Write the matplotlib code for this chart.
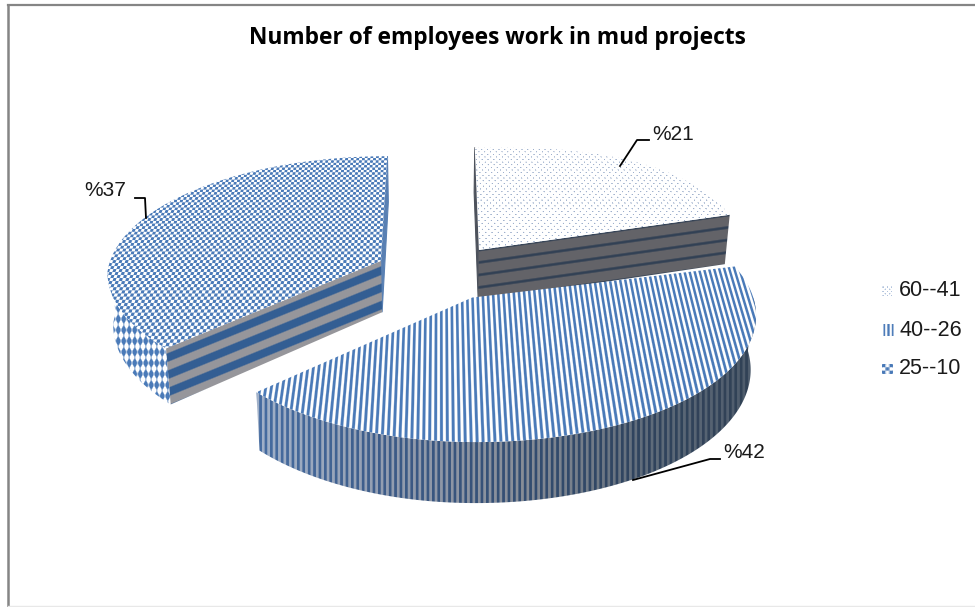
import numpy as np
import matplotlib
matplotlib.use("Agg")
import matplotlib.pyplot as plt
from matplotlib.patches import Polygon

title = "Number of employees work in mud projects"
age_groups = ["60--41", "40--26", "25--10"]
percents = [21, 42, 37]

# camera for the tilted pie, everything in screen pixels
cx, cy = 440.0, 272.0
rx, ry = 274.0, 120.0
persp = 0.1224
explode = 0.237
depth = 52.0
taper = 0.983  # lower edge of the pie sits slightly narrower

BLUE = np.array([74, 122, 184]) / 255
WHITE = np.array([1.0, 1.0, 1.0])


def project(X, Y):
    w = 1 + persp * Y
    sx = cx + rx * X / w
    sy = cy - ry * Y / w
    # small lens twist at the far right and near left
    sy = sy - 14 * np.maximum(X, 0) ** 2 * np.maximum(Y, 0)
    sx = sx + 10 * np.minimum(X, 0) * np.minimum(Y, 0)
    return sx, sy


def plane(px, py):
    w = 1 / (1 + persp * (py - cy) / ry)
    return (px - cx) / rx * w, -(py - cy) / ry * w


def drop(Y):
    return depth / (1 + persp * Y)


def lower(sx):
    return cx + (sx - cx) * taper


def mix(c0, c1, t):
    t = np.clip(t, 0, 1)[..., None]
    return c0 * (1 - t) + c1 * t


def fill(ax, xs, ys, painter, z):
    # paint an rgb array over the bounding box, clipped to the outline
    x0, x1 = int(min(xs)) - 2, int(max(xs)) + 3
    y0, y1 = int(min(ys)) - 2, int(max(ys)) + 3
    px, py = np.meshgrid(np.arange(x0, x1) + 0.5, np.arange(y0, y1) + 0.5)
    im = ax.imshow(painter(px, py), extent=(x0, x1, y1, y0), aspect="auto",
                   interpolation="bilinear", zorder=z)
    patch = Polygon(np.column_stack([xs, ys]), closed=True, transform=ax.transData)
    im.set_clip_path(patch)


def dots(px, py):
    X, Y = plane(px, py)
    s = np.sin(2 * np.pi * X / 0.024) * np.sin(2 * np.pi * Y / 0.055)
    return mix(WHITE, np.array([0.62, 0.69, 0.80]), (s - 0.55) * 2.5)


def stripes(px, py):
    X, Y = plane(px, py)
    return mix(WHITE, BLUE, 0.5 + 0.8 * np.sin(2 * np.pi * X / 0.0185))


def checks(px, py):
    X, Y = plane(px, py)
    s = np.sin(2 * np.pi * X / 0.023) * np.sin(2 * np.pi * Y / 0.05)
    return mix(WHITE, BLUE, 0.5 + 1.4 * s)


def side_stripes(px, py):
    stops = [263, 400, 520, 640, 750]
    light = np.array([[160, 176, 200], [146, 156, 174], [136, 142, 152], [98, 110, 124], [78, 92, 108]]) / 255
    dark = np.array([[70, 108, 160], [60, 90, 134], [52, 78, 114], [48, 68, 94], [50, 66, 86]]) / 255
    lt = np.stack([np.interp(px, stops, light[:, i]) for i in range(3)], axis=-1)
    dk = np.stack([np.interp(px, stops, dark[:, i]) for i in range(3)], axis=-1)
    t = np.clip(0.5 + 1.0 * np.sin(2 * np.pi * px / 5.4), 0, 1)[..., None]
    return lt * (1 - t) + dk * t


def diamonds(px, py):
    s = np.sin(2 * np.pi * (px / 11 + py / 22)) * np.sin(2 * np.pi * (px / 11 - py / 22))
    return mix(WHITE, BLUE, 0.5 + 1.5 * s)


def front_bands(p0, p1, c0, c1, sharp):
    # bands that run parallel to the cut edge, sharp(t) picks the colour
    def paint(px, py):
        ytop = p0[1] + (p1[1] - p0[1]) * (px - p0[0]) / (p1[0] - p0[0])
        return mix(c0, c1, sharp((py - ytop) / depth))
    return paint


def thin_lines(t):
    return (np.cos(2 * np.pi * t / 0.24) - 0.55) * 2.2


def wide_bands(t):
    return 0.5 + 1.8 * np.sin(2 * np.pi * 3 * t - 2.0)


fig = plt.figure(figsize=(9.75, 6.07), dpi=100)
ax = fig.add_axes([0, 0, 1, 1])

tops = [dots, stripes, checks]
fronts = [
    (np.array([0.39, 0.39, 0.41]), np.array([0.19, 0.25, 0.33]), thin_lines),
    None,
    (np.array([0.59, 0.59, 0.61]), np.array([0.20, 0.37, 0.58]), wide_bands),
]
walls = [np.array([0.30, 0.32, 0.36]), None, np.array([0.35, 0.50, 0.70])]

start = 0.0
total = sum(percents)
draw_order = [0, 2, 1]
geometry = []
for v in percents:
    end = start + 360.0 * v / total
    mid = np.radians((start + end) / 2)
    geometry.append((start, end, explode * np.sin(mid), explode * np.cos(mid)))
    start = end

for i in draw_order:
    a0, a1, ox, oy = geometry[i]
    z = 2 + draw_order.index(i) * 5
    th = np.radians(np.linspace(a0, a1, 200))
    X, Y = ox + np.sin(th), oy + np.cos(th)
    sx, sy = project(X, Y)
    ax_, ay_ = project(ox, oy)
    dz = drop(oy)

    # straight wall behind the first edge of a slice
    if walls[i] is not None:
        c = walls[i]
        j = 0 if i == 0 else -1
        wx = [sx[j], ax_, lower(ax_), lower(sx[j])]
        wy = [sy[j], ay_, ay_ + dz, sy[j] + drop(Y[j])]
        ax.add_patch(Polygon(np.column_stack([wx, wy]), closed=True, facecolor=c,
                             edgecolor=c, linewidth=0.8, zorder=z))

    # outer rim, only the part that faces the viewer
    keep = (np.degrees(th) >= 90) & (np.degrees(th) <= 270)
    if keep.any():
        ux, uy = sx[keep], sy[keep]
        lx, ly = lower(ux), uy + drop(Y[keep])
        fill(ax, np.r_[ux, lx[::-1]], np.r_[uy, ly[::-1]],
             side_stripes if i == 1 else diamonds, z + 1)

    # cut face towards the viewer
    if fronts[i] is not None:
        c0, c1, sharp = fronts[i]
        j = -1 if i == 0 else 0
        ex, ey = sx[j], sy[j]
        de = drop(Y[j])
        fill(ax, [ax_, ex, lower(ex), lower(ax_)], [ay_, ey, ey + de, ay_ + dz],
             front_bands((ax_, ay_), (ex, ey), c0, c1, sharp), z + 2)

    # top face
    fill(ax, np.r_[ax_, sx], np.r_[ay_, sy], tops[i], z + 3)

ax.set_xlim(0, 975)
ax.set_ylim(607, 0)
ax.axis("off")

# outer frame
ax.plot([8, 8], [607, 5], color="#858585", lw=1.8, zorder=30)
ax.plot([8, 975], [5, 5], color="#858585", lw=1.6, zorder=30)
ax.plot([8, 975], [606, 606], color="#e8e8e8", lw=1.0, zorder=30)

ax.text(497, 38, title, family="Open Sans", weight="bold", fontsize=16.4,
        ha="center", va="center", color="black", zorder=31)

# value labels with their leader lines
label_font = dict(family="Liberation Sans", fontsize=15, color="#1a1a1a", va="center", zorder=31)
ax.text(652, 135, "%" + str(percents[0]), ha="left", **label_font)
ax.plot([620, 637, 649], [166, 140, 140], color="black", lw=1.3, zorder=31)
ax.text(84, 191, "%" + str(percents[2]), ha="left", **label_font)
ax.plot([135, 145, 146], [198, 198, 218], color="black", lw=1.3, zorder=31)
ax.text(723, 452, "%" + str(percents[1]), ha="left", **label_font)
ax.plot([720, 710, 633], [459, 459, 480], color="black", lw=1.3, zorder=31)

# legend
legend_y = [291, 330, 369]
for name, y in zip(age_groups, legend_y):
    ax.text(899, y, name, ha="left", family="Liberation Sans", fontsize=15.5,
            color="#1a1a1a", va="center", zorder=31)
ks = 5
px, py = np.meshgrid(np.arange(10) + 0.5, np.arange(10) + 0.5)
ax.imshow(mix(WHITE, np.array([0.70, 0.77, 0.87]),
              np.sin(2 * np.pi * px / 4.4) * np.sin(2 * np.pi * py / 4.4) * 2 - 0.4),
          extent=(882, 892, legend_y[0] + ks, legend_y[0] - ks), aspect="auto", zorder=31)
ax.imshow(mix(WHITE, BLUE, 0.5 + 1.2 * np.sin(2 * np.pi * (px - 0.5) / 3.6)),
          extent=(883, 894, legend_y[1] + ks + 1, legend_y[1] - ks - 1), aspect="auto", zorder=31)
ax.imshow(mix(WHITE, BLUE, 0.5 + 1.6 * np.sin(2 * np.pi * px / 6.6) * np.sin(2 * np.pi * py / 6.6)),
          extent=(882, 893, legend_y[2] + ks, legend_y[2] - ks), aspect="auto", zorder=31)

ax.set_xlim(0, 975)
ax.set_ylim(607, 0)
fig.savefig("out.png", dpi=100, facecolor="white")
